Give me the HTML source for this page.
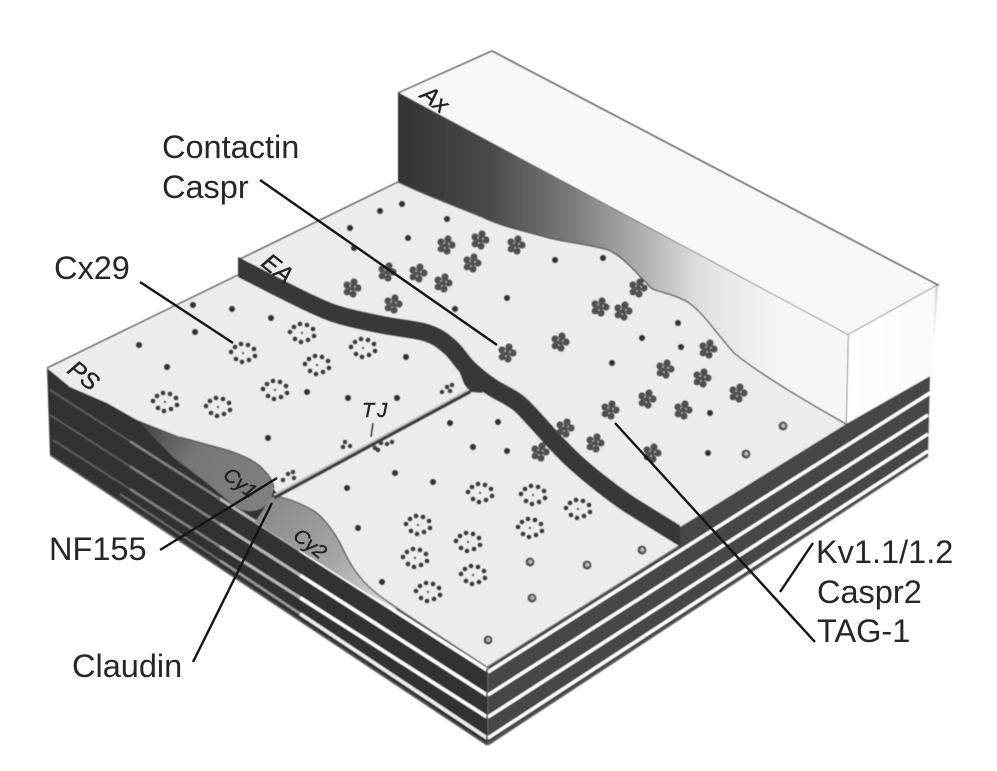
<!DOCTYPE html>
<html><head><meta charset="utf-8"><style>
html,body{margin:0;padding:0;background:#fff;width:997px;height:771px;overflow:hidden}
svg{display:block}
.l{font-family:"Liberation Sans",Arial,sans-serif;font-size:32.5px;fill:#262626}
.h{font-family:"Liberation Sans",sans-serif;font-style:italic;font-size:24px;fill:#222;stroke:#222;stroke-width:.4}
.m{font-size:20px}
.ln{stroke:#151515;stroke-width:2.4;fill:none}
.e{stroke:#555;stroke-width:1.4;fill:none}
</style></head><body>
<svg width="997" height="771" viewBox="0 0 997 771" xmlns="http://www.w3.org/2000/svg">
<defs>
<linearGradient id="ax" gradientUnits="userSpaceOnUse" x1="398" y1="0" x2="780" y2="0">
<stop offset="0" stop-color="#333"/><stop offset=".24" stop-color="#4a4a4a"/><stop offset=".44" stop-color="#777"/><stop offset=".66" stop-color="#b5b5b5"/><stop offset=".79" stop-color="#e0e0e0"/><stop offset="1" stop-color="#f6f6f6"/>
</linearGradient>
<linearGradient id="cy2" gradientUnits="userSpaceOnUse" x1="270" y1="500" x2="410" y2="610">
<stop offset="0" stop-color="#8a8a8a"/><stop offset=".5" stop-color="#a5a5a5"/><stop offset="1" stop-color="#eaeaea"/>
</linearGradient>
<linearGradient id="cy1" gradientUnits="userSpaceOnUse" x1="130" y1="420" x2="270" y2="500">
<stop offset="0" stop-color="#3a3a3a"/><stop offset=".45" stop-color="#777"/><stop offset="1" stop-color="#808080"/>
</linearGradient>
<linearGradient id="rf" gradientUnits="userSpaceOnUse" x1="848" y1="0" x2="940" y2="0">
<stop offset="0" stop-color="#fff"/><stop offset=".93" stop-color="#fafafa"/><stop offset="1" stop-color="#aaa"/>
</linearGradient>
<clipPath id="sc"><rect x="238" y="200" width="442" height="400"/></clipPath>
<filter id="b" x="-2%" y="-2%" width="104%" height="104%"><feGaussianBlur stdDeviation=".6"/></filter>
<g id="r" fill="#383838">
<circle cx="-12" cy="-1" r="2.5"/><circle cx="-8" cy="-6" r="2.5"/><circle cx="-2" cy="-9" r="2.5"/><circle cx="5" cy="-8" r="2.5"/><circle cx="11" cy="-4" r="2.5"/><circle cx="12" cy="3" r="2.5"/><circle cx="6" cy="7" r="2.5"/><circle cx="-1" cy="9" r="2.5"/><circle cx="-7" cy="6" r="2.5"/><circle cx="0" cy="0" r="1.2"/>
</g>
<g id="c">
<g fill="#4f4f4f"><circle cx="-5" cy="-3" r="3.7"/><circle cx="2" cy="-6" r="3.7"/><circle cx="6" cy="0" r="3.7"/><circle cx="1" cy="6" r="3.7"/><circle cx="-5" cy="4" r="3.5"/><circle cx="0" cy="0" r="3.5"/></g>
<g fill="#bbb"><circle cx="-2" cy="-2" r=".9"/><circle cx="3" cy="-1" r=".9"/><circle cx="-1" cy="3" r=".9"/></g>
</g>
<circle id="d" r="3.2" fill="#333"/>
<g id="o"><circle r="4.6" fill="#555"/><circle r="2" cx=".3" cy="-.3" fill="#bbb"/></g>
</defs>

<g filter="url(#b)">
<!-- Left stacked face -->
<polygon points="47,368 140,415 285,490 487,667 487,745 50,455" fill="#333"/>
<line x1="50" y1="455" x2="487" y2="745" stroke="#666" stroke-width="1.6"/>
<g fill="none">
<g stroke="#5c5c5c" stroke-width="2">
<line x1="50" y1="390" x2="130" y2="441.300"/><line x1="50" y1="415" x2="130" y2="466.300"/><line x1="53" y1="440" x2="130" y2="489.100"/>
</g>
<g stroke="#828282" stroke-width="2.500">
<line x1="130" y1="441.300" x2="220" y2="498.900"/><line x1="130" y1="466.300" x2="220" y2="523.900"/><line x1="130" y1="489.100" x2="220" y2="546.600"/>
</g>
<g stroke="#b8b8b8" stroke-width="3">
<line x1="220" y1="498.900" x2="300" y2="550.200"/><line x1="220" y1="523.900" x2="300" y2="575.200"/><line x1="220" y1="546.600" x2="300" y2="597.600"/>
</g>
<g stroke="#fff" stroke-width="3.500">
<line x1="300" y1="550.200" x2="487" y2="670"/><line x1="300" y1="575.200" x2="487" y2="695"/><line x1="300" y1="597.600" x2="487" y2="717"/>
</g>
<line x1="120" y1="494" x2="220" y2="560.500" stroke="#6a6a6a" stroke-width="2"/>
<line x1="220" y1="560.500" x2="300" y2="613.700" stroke="#999" stroke-width="2.500"/>
<line x1="300" y1="613.700" x2="487" y2="738" stroke="#eee" stroke-width="3.500"/>
</g>
<!-- Right stacked face -->
<polygon points="488,667 680,527 846,424 930,375 928,456 488,745" fill="#464646"/>
<g stroke="#fff" fill="none" stroke-width="3.400">
<line x1="488" y1="672" x2="930" y2="393"/>
<line x1="488" y1="695" x2="928" y2="415"/>
<line x1="488" y1="717" x2="928" y2="434"/>
<line x1="488" y1="738" x2="928" y2="451"/>
</g>
<line x1="488" y1="745" x2="928" y2="456" stroke="#666" stroke-width="1.400"/>
<line x1="487" y1="668" x2="487" y2="745" stroke="#333" stroke-width="1.500"/>

<!-- Axon top and right faces -->
<polygon points="398,93 492,51 938,285 848,335" fill="#f7f7f7"/>
<polyline points="398,93 492,51 938,285 848,335 398,93" stroke="#555" stroke-width="1.500" fill="none"/>
<polygon points="848,335 938,285 932,375 846,424" fill="url(#rf)"/>
<line x1="848" y1="335" x2="846" y2="424" stroke="#444" stroke-width="1.400"/>
<!-- Axon front gradient -->
<path d="M398,93 L848,335 L846,424 C800,398 757,372 734,353 C712,328 700,308 684,300 C668,292 655,292 650,287 C636,272 622,256 608,250 C585,243 565,243 545,237 C520,230 500,226 482,217 C450,204 425,195 398,182 Z" fill="url(#ax)"/>

<!-- Whole floor -->
<path d="M47,368 L238,275 L238,260 L398,182 C425,195 450,204 482,217 C500,226 520,230 545,237 C565,243 585,243 608,250 C622,256 636,272 650,287 C655,292 668,292 684,300 C700,308 712,328 734,353 C757,372 800,398 846,424 L680,527 L680,545 L487,667 L400,610 C385,600 370,590 360,577 C350,565 345,553 340,543 C333,530 325,520 317,513 C305,505 293,500 280,497 L273,488 C268,475 262,466 247,457 C235,452 225,450 220,448 L180,437 L137,420 L107,403 L70,387 Z" fill="#ececec"/>
<path d="M398,182 C425,195 450,204 482,217 C500,226 520,230 545,237 C565,243 585,243 608,250 C622,256 636,272 650,287 C655,292 668,292 684,300 C700,308 712,328 734,353 C757,372 800,398 846,424" class="e"/>
<polyline points="47,368 238,275" class="e"/>
<polyline points="238,260 398,182" class="e"/>
<line x1="680" y1="545" x2="487" y2="667" stroke="#777" stroke-width="1.200"/>
<line x1="400" y1="610" x2="487" y2="667" stroke="#666" stroke-width="1.200"/>
<!-- Cy1 -->
<path d="M137,420 L180,437 L220,448 C235,452 250,458 260,466 C268,474 273,480 274,488 L270,502 C264,508 258,511 250,511 C243,511 238,509 232,504 L207,483 L173,457 Z" fill="url(#cy1)"/>
<path d="M180,437 L220,448 C235,452 250,458 260,466 C268,474 273,480 274,488" class="e"/>
<!-- Cy2 -->
<path d="M272,497 L280,497 C293,500 305,505 317,513 C325,520 333,530 340,543 C345,553 350,565 360,577 C370,590 385,600 400,610 L393,608 L365,592 L255,522 Z" fill="url(#cy2)"/>
<path d="M280,497 C293,500 305,505 317,513 C325,520 333,530 340,543 C345,553 350,565 360,577 C370,590 385,600 400,610" class="e"/>
<!-- EA dark strip -->
<g clip-path="url(#sc)">
<path d="M230,263 L238,267 L283,290 C298.800,297.700 316.300,307.200 333,313 C349.700,318.800 367.300,321.700 383,325 C398.700,328.300 415.800,329.300 427,333 C438.200,336.700 443.200,341.200 450,347 C456.800,352.800 461.300,361.500 468,368 C474.700,374.500 481.800,380.300 490,386 C498.200,391.700 509.500,396.300 517,402 C524.500,407.700 528.700,413.300 535,420 C541.300,426.700 548.300,435 555,442 C561.700,449 567.500,455.200 575,462 C582.500,468.800 590.800,475.800 600,483 C609.200,490.200 616.700,496.200 630,505 L680,536 L692,543" fill="none" stroke="#383838" stroke-width="18"/>
</g>
<polygon points="458,368 468,368 492,380 482,393 470,392 464,384" fill="#383838"/>
<polygon points="680,527 692,520 692,538 680,545" fill="#464646"/>
<!-- TJ seam -->
<line x1="470" y1="391" x2="274" y2="497" stroke="#3c3c3c" stroke-width="5"/>
<line x1="469" y1="389.500" x2="274" y2="495" stroke="#c8c8c8" stroke-width="1.700"/>

<!-- PS rosettes -->
<g>
<use href="#r" x="243" y="353"/><use href="#r" x="302" y="333"/><use href="#r" x="363" y="348"/><use href="#r" x="317" y="365"/><use href="#r" x="275" y="390"/><use href="#r" x="165" y="402"/><use href="#r" x="218" y="407"/>
<use href="#r" x="480" y="493"/><use href="#r" x="418" y="525"/><use href="#r" x="468" y="542"/><use href="#r" x="415" y="558"/><use href="#r" x="473" y="575"/><use href="#r" x="428" y="592"/><use href="#r" x="533" y="495"/><use href="#r" x="578" y="509"/><use href="#r" x="530" y="528"/>
</g>
<!-- Small dots -->
<g>
<use href="#d" x="193" y="305"/><use href="#d" x="232" y="309"/><use href="#d" x="271" y="318"/><use href="#d" x="195" y="332"/><use href="#d" x="139" y="345"/><use href="#d" x="167" y="367"/><use href="#d" x="307" y="392"/><use href="#d" x="406" y="357"/><use href="#d" x="268" y="438"/><use href="#d" x="348" y="398"/><use href="#d" x="397" y="398"/>
<use href="#d" x="450" y="423"/><use href="#d" x="498" y="422"/><use href="#d" x="473" y="447"/><use href="#d" x="395" y="473"/><use href="#d" x="433" y="482"/><use href="#d" x="347" y="488"/><use href="#d" x="358" y="528"/><use href="#d" x="382" y="582"/><use href="#d" x="507" y="451"/>
<use href="#d" x="380" y="211"/><use href="#d" x="402" y="204"/><use href="#d" x="350" y="228"/><use href="#d" x="447" y="219"/><use href="#d" x="408" y="238"/><use href="#d" x="354" y="248"/><use href="#d" x="555" y="260"/><use href="#d" x="603" y="258"/><use href="#d" x="507" y="298"/><use href="#d" x="455" y="309"/><use href="#d" x="678" y="323"/><use href="#d" x="642" y="338"/><use href="#d" x="681" y="347"/><use href="#d" x="612" y="363"/><use href="#d" x="710" y="413"/><use href="#d" x="708" y="453"/>
<use href="#o" x="488" y="640"/><use href="#o" x="783" y="426"/><use href="#o" x="746" y="454"/><use href="#o" x="642" y="550"/><use href="#o" x="530" y="562"/><use href="#o" x="587" y="565"/><use href="#o" x="532" y="598"/>
</g>
<!-- EA clusters -->
<g>
<use href="#c" x="446" y="245"/><use href="#c" x="480" y="240"/><use href="#c" x="516" y="245"/><use href="#c" x="472" y="263"/><use href="#c" x="387" y="272"/><use href="#c" x="418" y="273"/><use href="#c" x="443" y="283"/><use href="#c" x="352" y="288"/><use href="#c" x="393" y="304"/><use href="#c" x="638" y="288"/><use href="#c" x="600" y="307"/><use href="#c" x="623" y="311"/><use href="#c" x="560" y="342"/><use href="#c" x="708" y="349"/><use href="#c" x="665" y="369"/><use href="#c" x="507" y="353"/><use href="#c" x="702" y="378"/><use href="#c" x="738" y="393"/><use href="#c" x="647" y="399"/><use href="#c" x="610" y="410"/><use href="#c" x="683" y="410"/><use href="#c" x="595" y="443"/><use href="#c" x="652" y="453"/><use href="#c" x="565" y="428"/><use href="#c" x="540" y="452"/>
</g>
<!-- TJ clusters -->
<g fill="#3c3c3c">
<circle cx="345" cy="442" r="2.400"/><circle cx="350" cy="446" r="2.400"/><circle cx="343" cy="447" r="2.400"/><circle cx="375" cy="448" r="2.400"/><circle cx="381" cy="443" r="2.400"/><circle cx="387" cy="444" r="2.400"/><circle cx="392" cy="442" r="2.400"/><circle cx="378" cy="450" r="2.400"/>
<circle cx="442" cy="392" r="2.400"/><circle cx="447" cy="387" r="2.400"/><circle cx="452" cy="385" r="2.400"/><circle cx="450" cy="391" r="2.400"/>
<circle cx="283" cy="480" r="2.400"/><circle cx="288" cy="474" r="2.400"/><circle cx="293" cy="472" r="2.400"/><circle cx="294" cy="478" r="2.400"/>
</g>
<line x1="373" y1="423" x2="371" y2="437" stroke="#222" stroke-width="1.800"/>
</g>

<!-- Hand labels -->
<text class="h" transform="translate(66,372) rotate(38)">PS</text>
<text class="h" transform="translate(419,97) rotate(38)">Ax</text>
<text class="h" transform="translate(260,265) rotate(38)">EA</text>
<text class="h m" transform="translate(222,477) rotate(38)">Cy1</text>
<text class="h m" transform="translate(292,538) rotate(38)">Cy2</text>
<text class="h m" x="362" y="417" letter-spacing="3">TJ</text>

<!-- Leaders -->
<line class="ln" x1="260" y1="180" x2="497" y2="345"/>
<line class="ln" x1="140" y1="282" x2="233" y2="343"/>
<line class="ln" x1="160" y1="550" x2="277" y2="478"/>
<line class="ln" x1="193" y1="662" x2="272" y2="503"/>
<line class="ln" x1="615" y1="423" x2="815" y2="642"/>
<line class="ln" x1="813" y1="543" x2="780" y2="592"/>

<!-- Labels -->
<text class="l" x="162" y="158">Contactin</text>
<text class="l" x="162" y="198">Caspr</text>
<text class="l" x="54" y="279">Cx29</text>
<text class="l" x="49" y="560">NF155</text>
<text class="l" x="72" y="677">Claudin</text>
<text class="l" x="816" y="563">Kv1.1/1.2</text>
<text class="l" x="817" y="603">Caspr2</text>
<text class="l" x="817" y="642">TAG-1</text>
</svg>
</body></html>
